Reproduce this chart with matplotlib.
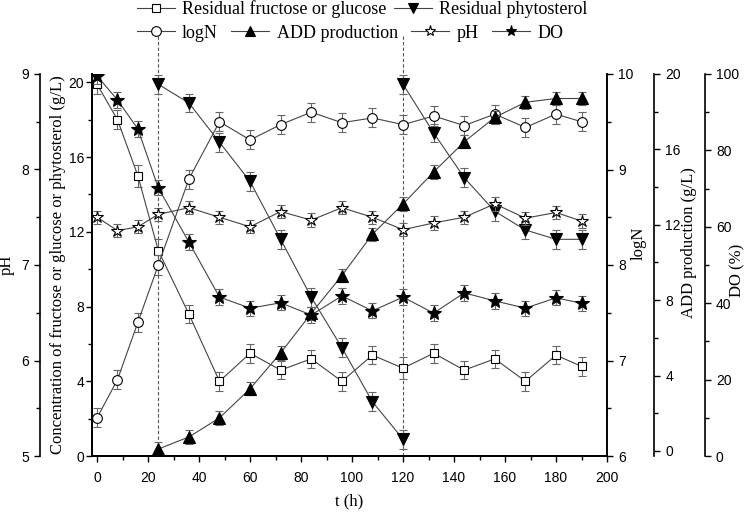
import numpy as np
import matplotlib
matplotlib.use("Agg")
import matplotlib.pyplot as plt
from matplotlib.lines import Line2D
from matplotlib.ticker import MultipleLocator

# sampling times (h)
t = [0, 8, 16, 24, 36, 48, 60, 72, 84, 96, 108, 120, 132, 144, 156, 168, 180, 190]

# residual fructose or glucose (g/L)
sugar = [19.9, 18.0, 15.0, 11.0, 7.6, 4.0, 5.5, 4.6, 5.2, 4.0, 5.4, 4.7, 5.5, 4.6, 5.2, 4.0, 5.4, 4.8]
sugar_err = [0.5, 0.5, 0.6, 0.6, 0.5, 0.5, 0.5, 0.5, 0.5, 0.5, 0.5, 0.6, 0.5, 0.5, 0.5, 0.5, 0.5, 0.5]

# residual phytosterol (g/L), two feeding periods
t_phy1 = [24, 36, 48, 60, 72, 84, 96, 108, 120]
phy1 = [19.9, 18.9, 16.8, 14.7, 11.6, 8.5, 5.8, 2.9, 0.9]
t_phy2 = [120, 132, 144, 156, 168, 180, 190]
phy2 = [19.9, 17.3, 14.9, 13.1, 12.1, 11.6, 11.6]
phy_err = 0.5

# logN
logn = [6.40, 6.80, 7.40, 8.00, 8.90, 9.50, 9.31, 9.47, 9.60, 9.49, 9.54, 9.47, 9.56, 9.46, 9.58, 9.44, 9.58, 9.50]
logn_err = 0.1

# ADD production (g/L)
t_add = [24, 36, 48, 60, 72, 84, 96, 108, 120, 132, 144, 156, 168, 180, 190]
add = [0.1, 0.74, 1.75, 3.3, 5.2, 7.3, 9.3, 11.5, 13.1, 14.8, 16.4, 17.7, 18.5, 18.7, 18.7]
add_err = 0.35

# pH
ph = [7.50, 7.36, 7.40, 7.53, 7.60, 7.50, 7.40, 7.56, 7.47, 7.60, 7.50, 7.37, 7.44, 7.50, 7.64, 7.49, 7.55, 7.46]
ph_err = 0.07

# DO (%)
do = [99.5, 93.2, 85.6, 70.2, 56.0, 41.6, 38.7, 40.1, 36.9, 41.9, 38.0, 41.6, 37.4, 42.7, 40.6, 38.7, 41.4, 40.0]
do_err = 2.0

plt.rcParams['font.family'] = 'Liberation Sans'
plt.rcParams['font.size'] = 10
serif = 'Liberation Serif'

line_kw = dict(color='#444444', lw=0.8, capsize=3, ecolor='#666666', elinewidth=0.8, capthick=0.8,
               markeredgecolor='black', markeredgewidth=0.8)

fig = plt.figure(figsize=(7.45, 5.14), dpi=100)
ax = fig.add_axes([92 / 745, 58 / 514, 515 / 745, 382 / 514])

ax_ph = ax.twinx()
ax_n = ax.twinx()
ax_add = ax.twinx()
ax_do = ax.twinx()

# concentration axis (main)
ax.errorbar(t, sugar, yerr=sugar_err, marker='s', ms=6, mfc='white', **line_kw, zorder=3)
ax.errorbar(t_phy1, phy1, yerr=phy_err, marker='v', ms=8, mfc='black', **line_kw, zorder=3)
ax.errorbar(t_phy2, phy2, yerr=phy_err, marker='v', ms=8, mfc='black', **line_kw, zorder=3)
ax.set_xlim(-2, 200)
ax.set_ylim(0, 20.45)
ax.xaxis.set_major_locator(MultipleLocator(20))
ax.xaxis.set_minor_locator(MultipleLocator(10))
ax.yaxis.set_major_locator(MultipleLocator(4))
ax.yaxis.set_minor_locator(MultipleLocator(2))
ax.spines['top'].set_visible(False)
ax.set_xlabel('t (h)', family=serif, fontsize=12, labelpad=6)
ax.set_ylabel('Concentration of fructose or glucose or phytosterol (g/L)', family=serif, fontsize=12)
ax.yaxis.set_label_coords(-0.0505, 0.5)

# dashed markers of phytosterol feeding
for xv in (24, 120):
    ax.axvline(xv, ymin=0, ymax=1.10, color='#555555', lw=0.8, ls=(0, (3, 2)), clip_on=False, zorder=1)

# pH axis on the outer left
ax_ph.errorbar(t, ph, yerr=ph_err, marker='*', ms=9, mfc='white', **line_kw)
ax_ph.set_ylim(5, 9)
ax_ph.yaxis.set_major_locator(MultipleLocator(1))
ax_ph.yaxis.set_minor_locator(MultipleLocator(0.5))
ax_ph.yaxis.tick_left()
ax_ph.yaxis.set_label_position('left')
ax_ph.spines['left'].set_visible(True)
ax_ph.spines['left'].set_position(('axes', -0.101))
ax_ph.spines['right'].set_visible(False)
ax_ph.spines['top'].set_visible(False)
ax_ph.set_ylabel('pH', family=serif, fontsize=12)
ax_ph.yaxis.set_label_coords(-0.1495, 0.5)

# logN axis on the right edge
ax_n.errorbar(t, logn, yerr=logn_err, marker='o', ms=7, mfc='white', **line_kw)
ax_n.set_ylim(6, 10)
ax_n.yaxis.set_major_locator(MultipleLocator(1))
ax_n.yaxis.set_minor_locator(MultipleLocator(0.5))
ax_n.spines['top'].set_visible(False)
ax_n.set_ylabel('logN', family=serif, fontsize=12)
ax_n.yaxis.set_label_coords(1.045, 0.558)

# ADD axis
ax_add.errorbar(t_add, add, yerr=add_err, marker='^', ms=8, mfc='black', **line_kw)
ax_add.set_ylim(-0.27, 20)
ax_add.yaxis.set_major_locator(MultipleLocator(4))
ax_add.yaxis.set_minor_locator(MultipleLocator(2))
ax_add.spines['right'].set_position(('axes', 1.0913))
ax_add.spines['top'].set_visible(False)
ax_add.set_ylabel('ADD production (g/L)', family=serif, fontsize=12)
ax_add.yaxis.set_label_coords(1.144, 0.56)

# DO axis
ax_do.errorbar(t, do, yerr=do_err, marker='*', ms=10, mfc='black', **line_kw)
ax_do.set_ylim(0, 100)
ax_do.yaxis.set_major_locator(MultipleLocator(20))
ax_do.yaxis.set_minor_locator(MultipleLocator(10))
ax_do.spines['right'].set_position(('axes', 1.190))
ax_do.spines['top'].set_visible(False)
ax_do.set_ylabel('DO (%)', family=serif, fontsize=12)
ax_do.yaxis.set_label_coords(1.237, 0.487)

for a in (ax, ax_ph, ax_n, ax_add, ax_do):
    a.tick_params(which='major', direction='out', length=4.5, width=1)
    a.tick_params(which='minor', direction='out', length=3, width=1)
    for s in a.spines.values():
        s.set_linewidth(1.2)
# concentration tick labels sit right against their ticks
ax.tick_params(axis='y', pad=1)
ax.tick_params(axis='x', which='major', pad=6.5)

# two-row legend at the top
def handle(marker, mfc, ms):
    return Line2D([], [], color='#444444', lw=0.8, marker=marker, ms=ms, mfc=mfc,
                  markeredgecolor='black', markeredgewidth=0.8)

leg_font = dict(family=serif, size=13)
row1 = fig.legend([handle('s', 'white', 6), handle('v', 'black', 7)],
                  ['Residual fructose or glucose', 'Residual phytosterol'],
                  loc='center', bbox_to_anchor=(362 / 745, 1 - 9 / 514), ncol=2, frameon=False,
                  prop=leg_font, handlelength=2.1, columnspacing=0.4, handletextpad=0.4,
                  borderaxespad=0, borderpad=0)
row2 = fig.legend([handle('o', 'white', 7), handle('^', 'black', 7), handle('*', 'white', 8), handle('*', 'black', 8)],
                  ['logN', 'ADD production', 'pH', 'DO'],
                  loc='center', bbox_to_anchor=(350 / 745, 1 - 33 / 514), ncol=4, frameon=False,
                  prop=leg_font, handlelength=2.1, columnspacing=0.75, handletextpad=0.4,
                  borderaxespad=0, borderpad=0)

fig.savefig('out.png', dpi=100)
